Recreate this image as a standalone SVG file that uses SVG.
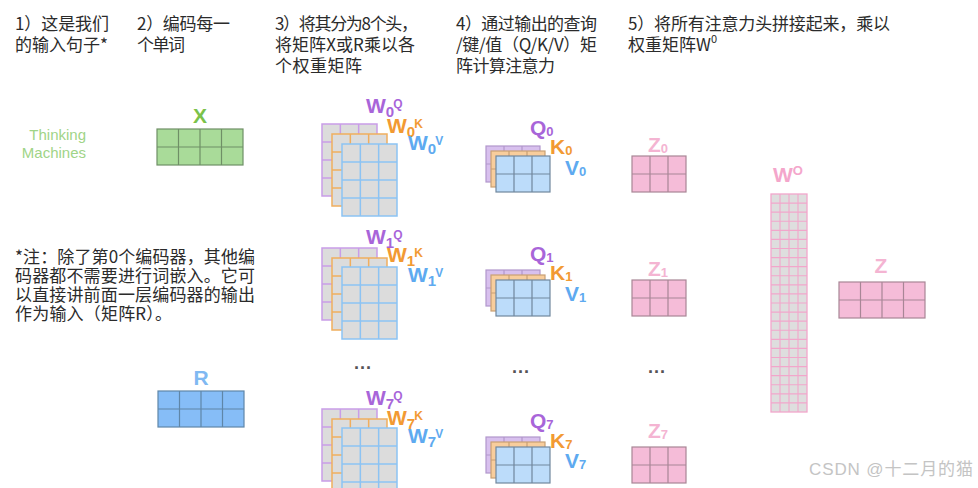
<svg xmlns="http://www.w3.org/2000/svg" xmlns:xlink="http://www.w3.org/1999/xlink" width="978" height="488" viewBox="0 0 978 488">
<style>
.t{font-family:"Noto Sans CJK SC","Liberation Sans",sans-serif;font-size:17px;fill:#2b2b2b}
.lb{font-family:"Liberation Sans",Arial,sans-serif;font-weight:bold;font-size:21px}
.pq{fill:#a865d9}.pk{fill:#f29a33}.pv{fill:#5eaaf0}.pz{fill:#f4b4d2}
.wq{fill:#dcdcdc;stroke:#c99de8;stroke-width:1.5}
.wk{fill:#dcdcdc;stroke:#f0ae5e;stroke-width:1.5}
.wv{fill:#dcdcdc;stroke:#8cc3f3;stroke-width:1.5}
.mq{fill:#d8c0ee;stroke:#b197cc;stroke-width:1.2}
.mk{fill:#f8cd9c;stroke:#c9a074;stroke-width:1.2}
.mv{fill:#bcdcfa;stroke:#71879d;stroke-width:1.2}
.mz{fill:#f5bcd8;stroke:#a88696;stroke-width:1.2}
.sb{font-size:15px}
.sp{font-size:12px}
.dots{font-family:"Liberation Sans",Arial,sans-serif;font-size:18px;font-weight:bold;fill:#555}
</style>
<defs>
<g id="wg"><rect width="55" height="72"/><path d="M18.33 0V72M36.67 0V72M0 18H55M0 36H55M0 54H55"/></g>
<g id="sg"><rect width="54" height="36"/><path d="M18 0V36M36 0V36M0 18H54"/></g>
<g id="bg"><rect width="86" height="36"/><path d="M21.5 0V36M43 0V36M64.5 0V36M0 18H86"/></g>
</defs>
<rect width="978" height="488" fill="#ffffff"/>

<g id="titles">
<text class="t" x="15" y="30" textLength="94" lengthAdjust="spacing">1）这是我们</text>
<text class="t" x="15" y="51" textLength="93" lengthAdjust="spacing">的输入句子*</text>
<text class="t" x="137" y="30" textLength="93" lengthAdjust="spacing">2）编码每一</text>
<text class="t" x="137" y="51" textLength="48" lengthAdjust="spacing">个单词</text>
<text class="t" x="275" y="30" textLength="143" lengthAdjust="spacing">3）将其分为8个头，</text>
<text class="t" x="275" y="51" textLength="140" lengthAdjust="spacing">将矩阵X或R乘以各</text>
<text class="t" x="275" y="72" textLength="87" lengthAdjust="spacing">个权重矩阵</text>
<text class="t" x="456" y="30" textLength="141" lengthAdjust="spacing">4）通过输出的查询</text>
<text class="t" x="456" y="51" textLength="141" lengthAdjust="spacing">/键/值（Q/K/V）矩</text>
<text class="t" x="456" y="72" textLength="99" lengthAdjust="spacing">阵计算注意力</text>
<text class="t" x="628" y="30" textLength="262" lengthAdjust="spacing">5）将所有注意力头拼接起来，乘以</text>
<text class="t" x="628" y="51">权重矩阵W<tspan font-size="11" dy="-8">0</tspan></text>
</g>

<g id="sentence">
<text x="86" y="140" text-anchor="end" font-family="Liberation Sans,Arial,sans-serif" font-size="15" fill="#9fd487">Thinking</text>
<text x="86" y="158" text-anchor="end" font-family="Liberation Sans,Arial,sans-serif" font-size="15" fill="#9fd487">Machines</text>
</g>

<g id="note">
<text class="t" x="15" y="263" textLength="240" lengthAdjust="spacing">*注：除了第0个编码器，其他编</text>
<text class="t" x="15" y="282" textLength="240" lengthAdjust="spacing">码器都不需要进行词嵌入。它可</text>
<text class="t" x="15" y="301" textLength="240" lengthAdjust="spacing">以直接讲前面一层编码器的输出</text>
<text class="t" x="15" y="320" textLength="157" lengthAdjust="spacing">作为输入（矩阵R）。</text>
</g>

<g id="X">
<text class="lb" x="200" y="123" text-anchor="middle" fill="#7bc24a" font-size="20">X</text>
<use xlink:href="#bg" x="157" y="129" fill="#a9db99" stroke="#6f8f66" stroke-width="1.2"/>
</g>

<g id="R">
<text class="lb" x="201" y="385" text-anchor="middle" fill="#80b9f2" font-size="20">R</text>
<use xlink:href="#bg" x="158" y="391" fill="#86bdf7" stroke="#5f86a8" stroke-width="1.2"/>
</g>

<g id="W0">
<use xlink:href="#wg" x="322" y="124" class="wq"/>
<use xlink:href="#wg" x="332" y="134" class="wk"/>
<use xlink:href="#wg" x="342" y="144" class="wv"/>
<text class="lb pq" x="366" y="113">W<tspan class="sb" dy="4">0</tspan><tspan class="sp" dx="-1" dy="-9">Q</tspan></text>
<text class="lb pk" x="387" y="133">W<tspan class="sb" dy="4">0</tspan><tspan class="sp" dx="-1" dy="-9">K</tspan></text>
<text class="lb pv" x="408" y="150">W<tspan class="sb" dy="4">0</tspan><tspan class="sp" dx="-1" dy="-9">V</tspan></text>
</g>

<g id="W1">
<use xlink:href="#wg" x="322" y="248" class="wq"/>
<use xlink:href="#wg" x="332" y="258" class="wk"/>
<use xlink:href="#wg" x="342" y="267" class="wv"/>
<text class="lb pq" x="366" y="244">W<tspan class="sb" dy="4">1</tspan><tspan class="sp" dx="-1" dy="-9">Q</tspan></text>
<text class="lb pk" x="387" y="262">W<tspan class="sb" dy="4">1</tspan><tspan class="sp" dx="-1" dy="-9">K</tspan></text>
<text class="lb pv" x="408" y="282">W<tspan class="sb" dy="4">1</tspan><tspan class="sp" dx="-1" dy="-9">V</tspan></text>
</g>

<g id="W7">
<use xlink:href="#wg" x="322" y="409" class="wq"/>
<use xlink:href="#wg" x="332" y="419" class="wk"/>
<use xlink:href="#wg" x="342" y="428" class="wv"/>
<text class="lb pq" x="366" y="405">W<tspan class="sb" dy="4">7</tspan><tspan class="sp" dx="-1" dy="-9">Q</tspan></text>
<text class="lb pk" x="387" y="425">W<tspan class="sb" dy="4">7</tspan><tspan class="sp" dx="-1" dy="-9">K</tspan></text>
<text class="lb pv" x="408" y="443">W<tspan class="sb" dy="4">7</tspan><tspan class="sp" dx="-1" dy="-9">V</tspan></text>
</g>

<g id="QKV0">
<use xlink:href="#sg" x="486" y="146" class="mq"/>
<use xlink:href="#sg" x="491" y="151" class="mk"/>
<use xlink:href="#sg" x="496" y="156" class="mv"/>
<text class="lb pq" x="530" y="135">Q<tspan font-size="13" dy="1">0</tspan></text>
<text class="lb pk" x="550" y="154">K<tspan font-size="13" dy="1">0</tspan></text>
<text class="lb pv" x="565" y="175">V<tspan font-size="13" dy="1">0</tspan></text>
</g>

<g id="QKV1">
<use xlink:href="#sg" x="486" y="270" class="mq"/>
<use xlink:href="#sg" x="491" y="275" class="mk"/>
<use xlink:href="#sg" x="496" y="280" class="mv"/>
<text class="lb pq" x="530" y="261">Q<tspan font-size="13" dy="1">1</tspan></text>
<text class="lb pk" x="550" y="280">K<tspan font-size="13" dy="1">1</tspan></text>
<text class="lb pv" x="565" y="301">V<tspan font-size="13" dy="1">1</tspan></text>
</g>

<g id="QKV7">
<use xlink:href="#sg" x="486" y="437" class="mq"/>
<use xlink:href="#sg" x="491" y="442" class="mk"/>
<use xlink:href="#sg" x="496" y="447" class="mv"/>
<text class="lb pq" x="530" y="428">Q<tspan font-size="13" dy="1">7</tspan></text>
<text class="lb pk" x="550" y="448">K<tspan font-size="13" dy="1">7</tspan></text>
<text class="lb pv" x="565" y="468">V<tspan font-size="13" dy="1">7</tspan></text>
</g>

<g id="Z0">
<text class="lb pz" x="648" y="152">Z<tspan font-size="13" dy="1">0</tspan></text>
<use xlink:href="#sg" x="632" y="156" class="mz"/>
</g>
<g id="Z1">
<text class="lb pz" x="648" y="276">Z<tspan font-size="13" dy="1">1</tspan></text>
<use xlink:href="#sg" x="632" y="280" class="mz"/>
</g>
<g id="Z7">
<text class="lb pz" x="648" y="438">Z<tspan font-size="13" dy="1">7</tspan></text>
<use xlink:href="#sg" x="632" y="447" class="mz"/>
</g>

<g id="ellipses">
<text class="dots" x="363" y="374" text-anchor="middle">···</text>
<text class="dots" x="521" y="378" text-anchor="middle">···</text>
<text class="dots" x="657" y="378" text-anchor="middle">···</text>
</g>

<g id="WO">
<text class="lb" x="773" y="182" fill="#f4a6cb">W<tspan font-size="13" dy="-7">O</tspan></text>
<rect x="771" y="194" width="36" height="218" fill="#dedede" stroke="#f2a6cb" stroke-width="1.3"/>
<path fill="none" stroke="#f2a6cb" stroke-width="1.1" transform="translate(771 194)" d="M9 0V218M18 0V218M27 0V218M0 9.08H36M0 18.17H36M0 27.25H36M0 36.33H36M0 45.42H36M0 54.5H36M0 63.58H36M0 72.67H36M0 81.75H36M0 90.83H36M0 99.92H36M0 109H36M0 118.08H36M0 127.17H36M0 136.25H36M0 145.33H36M0 154.42H36M0 163.5H36M0 172.58H36M0 181.67H36M0 190.75H36M0 199.83H36M0 208.92H36"/>
</g>

<g id="Z">
<text class="lb pz" x="881" y="273" text-anchor="middle" font-size="20">Z</text>
<use xlink:href="#bg" x="839" y="282" class="mz"/>
</g>

<text x="809" y="475" font-family="Liberation Sans,'Noto Sans CJK SC',sans-serif" font-size="17" fill="#c4c4c4" textLength="164" lengthAdjust="spacing">CSDN @十二月的猫</text>
</svg>
